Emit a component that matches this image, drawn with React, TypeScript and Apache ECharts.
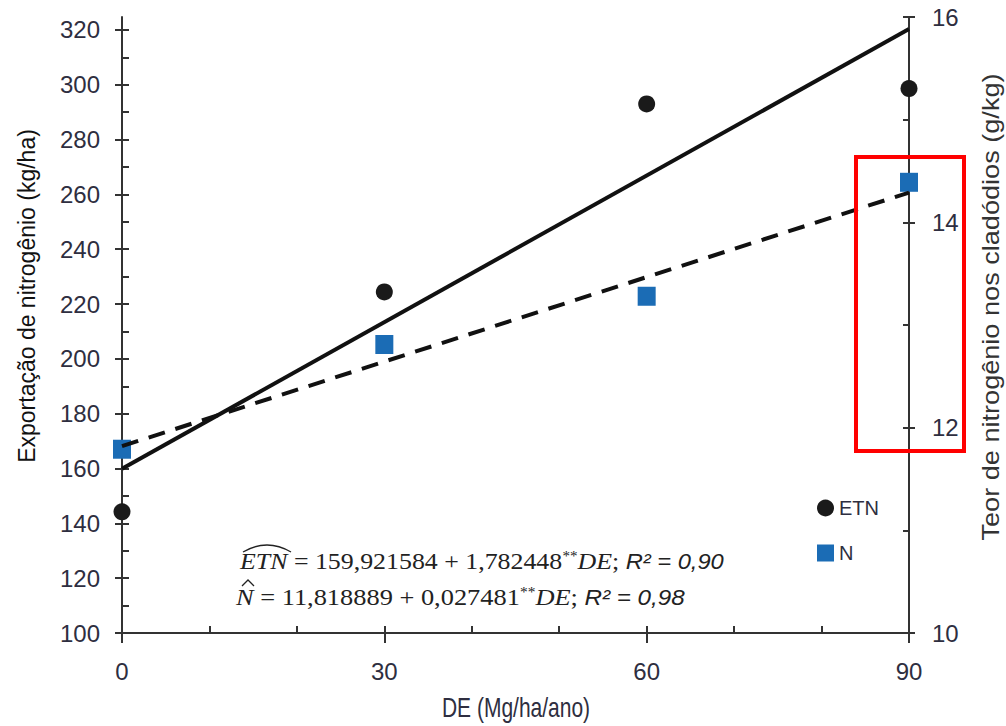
import React, { useEffect, useRef } from 'react';
import * as echarts from 'echarts';

// ---- data ----
const de = [0, 30, 60, 90];
const etn = [144.2, 224.4, 293.0, 298.6];          // kg/ha (left axis)
const nContent = [11.79, 12.81, 13.28, 14.39];     // g/kg (right axis)
const fitX = [0, 90];
const etnFit = [159.92, 320.34];
const nFit = [11.82, 14.29];

const xTickLabels = [0, 30, 60, 90];
const xMinorTicks = [0, 10, 20, 30, 40, 50, 60, 70, 80, 90];
const leftTickLabels = [100, 120, 140, 160, 180, 200, 220, 240, 260, 280, 300, 320];
const leftMinorTicks = [100, 110, 120, 130, 140, 150, 160, 170, 180, 190, 200, 210, 220, 230, 240, 250, 260, 270, 280, 290, 300, 310, 320];
const rightTickLabels = [10, 12, 14, 16];
const rightMinorTicks = [10, 11, 12, 13, 14, 15, 16];

const eq1 = '{i|ETN} = 159,921584 + 1,782448{sup|**}{i|DE}; {s|R² = 0,90}';
const eq2 = '{i|N} = 11,818889 + 0,027481{sup|**}{i|DE}; {s|R² = 0,98}';

const SANS = '"Liberation Sans", Arial, sans-serif';
const SERIF = '"Liberation Serif", "DejaVu Serif", serif';
const AXIS = '#333333';
const LABEL = '#2e2e40';

export default function App() {
  const ref = useRef<HTMLDivElement>(null);
  useEffect(() => {
    document.body.style.margin = '0';
    const chart = echarts.init(ref.current!, undefined, { renderer: 'svg' });
    const lineStyle = { color: AXIS, width: 2 };
    const labelStyle = { fontFamily: SANS, fontSize: 24, color: LABEL };
    const richEq = {
      i: { fontFamily: SERIF, fontStyle: 'italic', fontSize: 24, fill: '#222' },
      sup: { fontFamily: SERIF, fontSize: 14, verticalAlign: 'top', fill: '#222' },
      s: { fontFamily: SANS, fontStyle: 'italic', fontSize: 22, fill: '#222' },
    };
    chart.setOption({
      animation: false,
      grid: { left: 122, right: 97, top: 17, bottom: 93 },
      legend: {
        orient: 'vertical', left: 817, top: 498, padding: 0, itemWidth: 17, itemHeight: 17, itemGap: 25,
        textStyle: { fontFamily: SANS, fontSize: 20, lineHeight: 20, color: LABEL },
        data: ['ETN', 'N'],
      },
      xAxis: [
        {
          type: 'value', min: 0, max: 90, position: 'bottom',
          axisLine: { show: true, lineStyle },
          axisTick: { show: true, customValues: xTickLabels, length: 10, lineStyle },
          axisLabel: { customValues: xTickLabels, margin: 26, ...labelStyle },
          splitLine: { show: false },
        },
        {
          type: 'value', min: 0, max: 90, position: 'bottom',
          axisLine: { show: false },
          axisTick: { show: true, inside: true, customValues: xMinorTicks, length: 7, lineStyle },
          axisLabel: { show: false },
          splitLine: { show: false },
        },
      ],
      yAxis: [
        {
          type: 'value', min: 100, max: 324.7, position: 'left',
          axisLine: { show: true, lineStyle },
          axisTick: { show: true, customValues: leftTickLabels, length: 7, lineStyle },
          axisLabel: { customValues: leftTickLabels, margin: 22, ...labelStyle },
          splitLine: { show: false },
        },
        {
          type: 'value', min: 100, max: 324.7, position: 'left',
          axisLine: { show: false },
          axisTick: { show: true, inside: true, customValues: leftMinorTicks, length: 7, lineStyle },
          axisLabel: { show: false },
          splitLine: { show: false },
        },
        {
          type: 'value', min: 10, max: 16, position: 'right',
          axisLine: { show: true, lineStyle },
          axisTick: { show: true, customValues: rightTickLabels, length: 6, lineStyle },
          axisLabel: { customValues: rightTickLabels, margin: 23, ...labelStyle },
          splitLine: { show: false },
        },
        {
          type: 'value', min: 10, max: 16, position: 'right',
          axisLine: { show: false },
          axisTick: { show: true, inside: true, customValues: rightMinorTicks, length: 6, lineStyle },
          axisLabel: { show: false },
          splitLine: { show: false },
        },
      ],
      series: [
        {
          name: 'ETN', type: 'scatter', yAxisIndex: 0, symbol: 'circle', symbolSize: 17,
          itemStyle: { color: '#1a1a1a', opacity: 1 }, z: 2,
          data: de.map((d, i) => [d, etn[i]]),
        },
        {
          name: 'N', type: 'scatter', yAxisIndex: 2, symbol: 'rect', symbolSize: [18, 19],
          itemStyle: { color: '#1b6cb5', opacity: 1 }, z: 2,
          data: de.map((d, i) => [d, nContent[i]]),
        },
        {
          name: 'ETN fit', type: 'line', yAxisIndex: 0, symbol: 'none', z: 3,
          lineStyle: { color: '#111', width: 4 },
          data: fitX.map((d, i) => [d, etnFit[i]]),
        },
        {
          name: 'N fit', type: 'line', yAxisIndex: 2, symbol: 'none', z: 3,
          lineStyle: { color: '#111', width: 4, type: [17, 11] },
          data: fitX.map((d, i) => [d, nFit[i]]),
        },
      ],
      graphic: [
        {
          type: 'text', x: 27, y: 296, rotation: Math.PI / 2,
          style: {
            text: 'Exportação de nitrogênio (kg/ha)', font: `23px ${SANS}`, fill: '#111',
            align: 'center', verticalAlign: 'middle', textAlign: 'center', textVerticalAlign: 'middle',
          },
        },
        {
          type: 'text', x: 991, y: 307, rotation: Math.PI / 2, scaleX: 1.13,
          style: {
            text: 'Teor de nitrogênio nos cladódios (g/kg)', font: `24px ${SANS}`, fill: '#333',
            align: 'center', verticalAlign: 'middle', textAlign: 'center', textVerticalAlign: 'middle',
          },
        },
        {
          type: 'text', x: 516, y: 707, scaleX: 0.75,
          style: {
            text: 'DE (Mg/ha/ano)', font: `28px ${SANS}`, fill: LABEL,
            align: 'center', verticalAlign: 'middle', textAlign: 'center', textVerticalAlign: 'middle',
          },
        },
        {
          type: 'text', x: 240, y: 561, scaleX: 1.078,
          style: {
            text: eq1, font: `24px ${SERIF}`, fill: '#222',
            align: 'left', verticalAlign: 'middle', textAlign: 'left', textVerticalAlign: 'middle',
            rich: richEq,
          },
        },
        {
          type: 'text', x: 236, y: 597, scaleX: 1.1,
          style: {
            text: eq2, font: `24px ${SERIF}`, fill: '#222',
            align: 'left', verticalAlign: 'middle', textAlign: 'left', textVerticalAlign: 'middle',
            rich: richEq,
          },
        },
        {
          type: 'bezierCurve',
          shape: { x1: 243, y1: 552, x2: 291, y2: 552, cpx1: 267, cpy1: 538 },
          style: { stroke: '#222', lineWidth: 1.3, fill: 'none' },
        },
        {
          type: 'polyline',
          shape: { points: [[242, 586], [248, 580], [254, 586]] },
          style: { stroke: '#222', lineWidth: 1.3, fill: 'none' },
        },
        {
          type: 'rect',
          shape: { x: 856, y: 157, width: 108, height: 294 },
          style: { fill: 'none', stroke: '#ff0000', lineWidth: 4 },
          z: 100,
        },
      ],
    });
    return () => chart.dispose();
  }, []);
  return <div ref={ref} style={{ width: 1006, height: 726 }} />;
}
